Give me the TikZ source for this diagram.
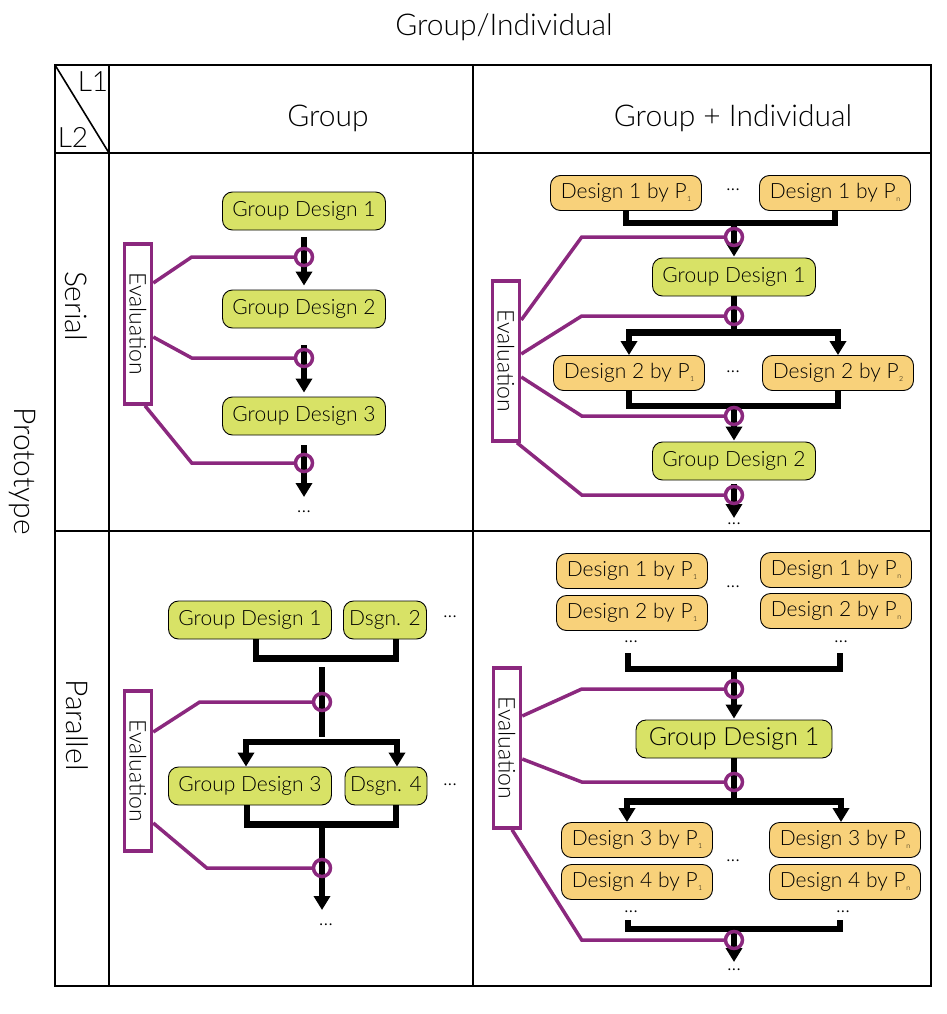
\documentclass[tikz,border=0pt]{standalone}
\usepackage{fontspec}
\setmainfont{Lato}[UprightFont={* Light}]
\usetikzlibrary{arrows.meta,positioning,calc}
\definecolor{EvalPurple}{RGB}{139,40,126}
\definecolor{GroupGreen}{RGB}{216,226,102}
\definecolor{IndivOrange}{RGB}{248,209,122}
\newcommand{\byP}[1]{P\kern0.5pt\raisebox{-0.3ex}{\fontsize{7}{7}\selectfont #1}}

\begin{document}
\begin{tikzpicture}[x=1pt,y=-1pt,
  tbl/.style={line width=1.6pt},
  hdr/.style={font=\fontsize{30}{32}\selectfont},
  grp/.style={draw,line width=0.9pt,fill=GroupGreen,rounded corners=10pt,minimum width=163pt,minimum height=38pt,inner sep=0pt,font=\fontsize{21}{22}\selectfont},
  ind/.style={draw,line width=0.9pt,fill=IndivOrange,rounded corners=10pt,minimum width=151pt,minimum height=35pt,inner sep=0pt,font=\fontsize{21}{22}\selectfont},
  evalbox/.style={draw=EvalPurple,line width=3.5pt,fill=white,minimum width=27pt,minimum height=160pt,inner sep=0pt,font=\fontsize{23}{24}\selectfont},
  more/.style={inner sep=0pt,font=\fontsize{20}{20}\selectfont},
  flow/.style={line width=6.5pt,-{Triangle[width=16pt,length=14pt]}},
  bar/.style={line width=6.5pt},
  ring/.style={circle,draw=EvalPurple,line width=3.5pt,minimum size=17pt,inner sep=0pt},
  evl/.style={EvalPurple,line width=3.5pt}]
  \useasboundingbox (0,0) rectangle (947,1014);

  % table
  \draw[tbl] (55,65) rectangle (931,986);
  \foreach \x in {109,473} \draw[tbl] (\x,65) -- (\x,986);
  \foreach \y in {153,531} \draw[tbl] (55,\y) -- (931,\y);
  \draw[tbl] (55,65) -- (109,153);
  \node[hdr] (title) at (504,27) {Group/Individual};
  \node[hdr] (colA) at (328,118) {Group};
  \node[hdr] (colB) at (733,118) {Group + Individual};
  \node[hdr,rotate=-90] (proto) at (22,471) {Prototype};
  \node[hdr,rotate=-90] (rowA) at (76,306) {Serial};
  \node[hdr,rotate=-90] (rowB) at (77,725) {Parallel};
  \node[font=\fontsize{28}{28}\selectfont] (lvA) at (93,82) {L1};
  \node[font=\fontsize{28}{28}\selectfont] (lvB) at (73,137) {L2};

  % serial, group
  \node[grp] (g11) at (304,211) {Group Design 1};
  \node[grp] (g12) at (304,309) {Group Design 2};
  \node[grp] (g13) at (304,416) {Group Design 3};
  \coordinate (e1) at (304,497);
  \node[more] (m11) at (304,512) {...};
  \draw[flow,shorten <=7pt,shorten >=4pt] (g11) -- (g12);
  \draw[flow,shorten <=17pt,shorten >=4pt] (g12) -- (g13);
  \draw[flow,shorten <=10pt] (g13) -- (e1);
  \node[ring] (r11) at (304,257) {};
  \node[ring] (r12) at (304,358) {};
  \node[ring] (r13) at (304,463) {};
  \node[evalbox] (ev1) at (138,324) {\rotatebox{-90}{Evaluation}};
  \draw[evl] ($(ev1.east)+(0,-41)$) -- ($(r11.west)+(-102,0)$) -- (r11.west);
  \draw[evl] ($(ev1.east)+(0,13)$) -- ($(r12.west)+(-102,0)$) -- (r12.west);
  \draw[evl] ($(ev1.south)+(7,0)$) -- ($(r13.west)+(-102,0)$) -- (r13.west);

  % serial, group + individual
  \node[ind] (d11) at (626,193) {Design 1 by \byP{1}};
  \node[more] (m21) at (733,190) {...};
  \node[ind] (d1n) at (835,193) {Design 1 by \byP{n}};
  \draw[bar] (d11.south) -- ++(0,12) -| (d1n.south);
  \coordinate (j21) at (734,223);
  \node[grp] (g21) at (734,277) {Group Design 1};
  \draw[flow,shorten >=1pt] (j21) -- (g21);
  \draw[bar] (g21.south) -- ++(0,36) coordinate (f21);
  \node[ind] (d21) at (629,373) {Design 2 by \byP{1}};
  \node[more] (m22) at (733,372) {...};
  \node[ind] (d22) at (838,373) {Design 2 by \byP{2}};
  \draw[flow] (f21) -| (d21);
  \draw[flow] (f21) -| (d22);
  \draw[bar] (d21.south) -- ++(0,15) -| (d22.south);
  \coordinate (j22) at (734,406);
  \node[grp] (g22) at (734,461) {Group Design 2};
  \draw[flow,shorten >=1pt] (j22) -- (g22);
  \coordinate (e2) at (734,518);
  \node[more] (m23) at (734,524) {...};
  \draw[flow,shorten <=4pt] (g22) -- (e2);
  \node[ring] (r21) at (734,237) {};
  \node[ring] (r22) at (734,316) {};
  \node[ring] (r23) at (734,416) {};
  \node[ring] (r24) at (734,495) {};
  \node[evalbox] (ev2) at (506,361) {\rotatebox{-90}{Evaluation}};
  \draw[evl] ($(ev2.east)+(0,-41)$) -- ($(r21.west)+(-142,0)$) -- (r21.west);
  \draw[evl] ($(ev2.east)+(0,-7)$) -- ($(r22.west)+(-142,0)$) -- (r22.west);
  \draw[evl] ($(ev2.east)+(0,16)$) -- ($(r23.west)+(-142,0)$) -- (r23.west);
  \draw[evl] ($(ev2.south)+(11,0)$) -- ($(r24.west)+(-142,0)$) -- (r24.west);

  % parallel, group
  \node[grp] (g31) at (250,620) {Group Design 1};
  \node[grp,minimum width=83pt] (g32) at (385,620) {Dsgn. 2};
  \node[more] (m31) at (450,617) {...};
  \node[grp] (g33) at (250,786) {Group Design 3};
  \node[grp,minimum width=82pt] (g34) at (386,786) {Dsgn. 4};
  \node[more] (m32) at (450,785) {...};
  \draw[bar] ([xshift=6pt]g31.south) -- ++(0,19) -| ([xshift=11pt]g32.south);
  \coordinate (k31) at (322,667);
  \coordinate (k32) at (322,742);
  \draw[bar] (k31) -- ++(0,70);
  \draw[flow] (k32) -| ([xshift=-4pt]g33.north);
  \draw[flow] (k32) -| ([xshift=11pt]g34.north);
  \draw[bar] ([xshift=-3pt]g33.south) -- ++(0,19) -| ([xshift=10pt]g34.south);
  \coordinate (k33) at (322,825);
  \coordinate (e3) at (322,910);
  \draw[flow] (k33) -- (e3);
  \node[more] (m33) at (326,925) {...};
  \node[ring] (r31) at (322,702) {};
  \node[ring] (r32) at (322,868) {};
  \node[evalbox] (ev3) at (138,771) {\rotatebox{-90}{Evaluation}};
  \draw[evl] ($(ev3.east)+(0,-39)$) -- ($(r31.west)+(-112,0)$) -- (r31.west);
  \draw[evl] ($(ev3.east)+(0,52)$) -- ($(r32.west)+(-105,0)$) -- (r32.west);

  % parallel, group + individual
  \node[ind] (d41) at (632,571) {Design 1 by \byP{1}};
  \node[ind] (d42) at (632,613) {Design 2 by \byP{1}};
  \node[ind] (d4a) at (836,570) {Design 1 by \byP{n}};
  \node[ind] (d4b) at (836,611) {Design 2 by \byP{n}};
  \node[more] (m41) at (733,587) {...};
  \node[more] (m42) at (631,642) {...};
  \node[more] (m43) at (841,642) {...};
  \coordinate (b41) at (628,653);
  \coordinate (b42) at (840,653);
  \draw[bar] (b41) -- ++(0,16) -| (b42);
  \coordinate (j41) at (734,669);
  \node[grp,minimum width=196pt,font=\fontsize{25}{26}\selectfont] (g41) at (734,739) {Group Design 1};
  \draw[flow,shorten >=1pt] (j41) -- (g41);
  \draw[bar] (g41.south) -- ++(0,43) coordinate (f41);
  \node[ind] (d43) at (637,840) {Design 3 by \byP{1}};
  \node[ind] (d44) at (637,882) {Design 4 by \byP{1}};
  \node[ind] (d4c) at (845,840) {Design 3 by \byP{n}};
  \node[ind] (d4d) at (845,882) {Design 4 by \byP{n}};
  \draw[flow] (f41) -| ([xshift=-10pt]d43.north);
  \draw[flow] (f41) -| ([xshift=-4pt]d4c.north);
  \node[more] (m44) at (733,861) {...};
  \node[more] (m45) at (631,912) {...};
  \node[more] (m46) at (843,912) {...};
  \coordinate (b43) at (628,920);
  \coordinate (b44) at (840,920);
  \draw[bar] (b43) -- ++(0,9) -| (b44);
  \coordinate (j42) at (734,929);
  \coordinate (e4) at (734,962);
  \draw[flow] (j42) -- (e4);
  \node[more] (m47) at (734,970) {...};
  \node[ring] (r41) at (734,689) {};
  \node[ring] (r42) at (734,782) {};
  \node[ring] (r43) at (734,940) {};
  \node[evalbox] (ev4) at (507,748) {\rotatebox{-90}{Evaluation}};
  \draw[evl] ($(ev4.east)+(0,-32)$) -- ($(r41.west)+(-142,0)$) -- (r41.west);
  \draw[evl] ($(ev4.east)+(0,11)$) -- ($(r42.west)+(-142,0)$) -- (r42.west);
  \draw[evl] ($(ev4.south)+(5,0)$) -- ($(r43.west)+(-142,0)$) -- (r43.west);
\end{tikzpicture}
\end{document}
